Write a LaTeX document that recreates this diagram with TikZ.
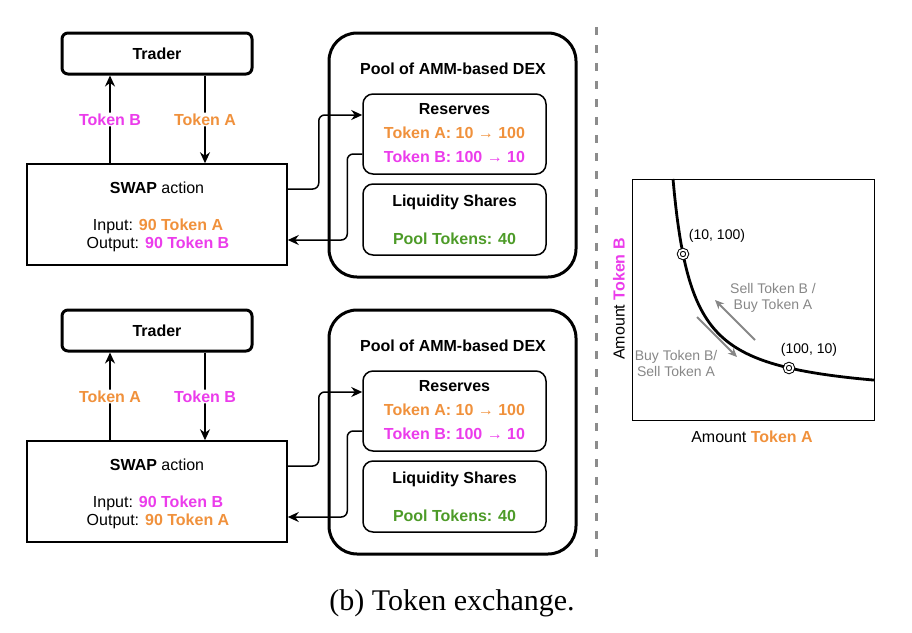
\documentclass[tikz,border=0pt]{standalone}
\usepackage{fontspec}
\setmainfont{Liberation Sans}
\newfontfamily\capfont{Liberation Serif}
\usetikzlibrary{arrows.meta, positioning, calc}

\definecolor{tokA}{RGB}{240,145,60}
\definecolor{tokB}{RGB}{235,60,235}
\definecolor{poolgreen}{RGB}{77,155,40}
\definecolor{divgray}{RGB}{140,140,140}
\definecolor{hintgray}{RGB}{135,135,135}

\newcommand{\dfont}{\fontsize{16}{19}\selectfont}
\newcommand{\sfont}{\fontsize{14}{16}\selectfont}
\newcommand{\tok}[2]{\textcolor{tok#1}{\textbf{#2}}}

\tikzset{
  txt/.style={font=\dfont, inner sep=1pt},
  actor/.style={txt, draw, line width=3pt, rounded corners=6pt, minimum width=190pt, minimum height=41pt},
  actbox/.style={draw, line width=1.5pt, minimum width=260pt, minimum height=101pt},
  poolbox/.style={draw, line width=3pt, rounded corners=28pt, minimum width=247pt, minimum height=244pt},
  subbox/.style={draw, line width=1.5pt, rounded corners=10pt, minimum width=183pt},
  flow/.style={line width=1.5pt, -{Stealth[length=11pt,width=10pt]}, rounded corners=6pt},
  tag/.style={txt, fill=white},
  dot/.style={circle, draw, fill=white, line width=1pt, double=white, double distance=1.8pt, minimum size=8.5pt, inner sep=0pt},
  hint/.style={font=\sfont, text=hintgray, align=center},
  move/.style={draw=hintgray, line width=2pt, -{Stealth[length=9pt,width=8pt]}},
}

\begin{document}
\begin{tikzpicture}[x=1pt, y=-1pt]
\useasboundingbox (0,0) rectangle (912,632);

% swap panels (top: A in, bottom: B in)
\foreach \dy/\upl/\dnl in {0/B/A, 277/A/B}{
  \begin{scope}[shift={(0,\dy)}]
    \node[actor] (trader\dy) at (157,53.5) {\textbf{Trader}};
    \node[actbox] (swap\dy) at (157,214.5) {};
    \node[txt] (swapT\dy) at (157,188) {\textbf{SWAP} action};
    \node[txt] (swapIn\dy) at (158,226) {Input: \tok{\dnl}{90 Token \dnl}};
    \node[txt] (swapOut\dy) at (158,244) {Output: \tok{\upl}{90 Token \upl}};

    \node[poolbox] (pool\dy) at (452.5,155) {};
    \node[txt] (poolT\dy) at (453,69) {\textbf{Pool of AMM-based DEX}};
    \node[subbox, minimum height=80pt] (res\dy) at (454.5,134) {};
    \node[txt] (resT\dy) at (454.5,109) {\textbf{Reserves}};
    \node[txt] (resA\dy) at (454.5,133) {\tok{A}{Token A: 10 → 100}};
    \node[txt] (resB\dy) at (454.5,157) {\tok{B}{Token B: 100 → 10}};
    \node[subbox, minimum height=71pt] (liq\dy) at (454.5,219.5) {};
    \node[txt] (liqT\dy) at (454.5,202) {\textbf{Liquidity Shares}};
    \node[txt] (liqP\dy) at (454.5,239) {\textcolor{poolgreen}{\textbf{Pool Tokens: 40}}};

    \draw[flow] ([xshift=-47pt]swap\dy.north) -- ([xshift=-47pt]trader\dy.south)
      node[tag, midway] (up\dy) {\tok{\upl}{Token \upl}};
    \draw[flow] ([xshift=48pt]trader\dy.south) -- ([xshift=48pt]swap\dy.north)
      node[tag, midway] (down\dy) {\tok{\dnl}{Token \dnl}};

    \draw[flow] ([yshift=25.5pt]swap\dy.east) -- ++(31,0) |- ([yshift=19pt]res\dy.west);
    \draw[flow] ([yshift=-20pt]res\dy.west) -- ++(-15,0) |- ([yshift=-25.5pt]swap\dy.east);
  \end{scope}
}

\draw[line width=3pt, divgray, dash pattern=on 8pt off 10pt] (596,27) -- (596,558);

% constant product curve
\node[draw, line width=1pt, minimum width=242pt, minimum height=241pt] (chart) at (753,299.5) {};
\draw[line width=2.8pt] plot[domain=673:874, samples=150] (\x, {399.5-4278/(\x-653.6)});
\node[dot] (p1) at (683,254) {};
\node[dot] (p2) at (789,368) {};
\node[font=\sfont] (p1lbl) at (717,236) {(10, 100)};
\node[font=\sfont] (p2lbl) at (809,350) {(100, 10)};

\coordinate (s1) at (755,340);
\coordinate (s2) at (715,300);
\coordinate (b1) at (697,317);
\coordinate (b2) at (737,357);
\draw[move] (s1) -- (s2);
\draw[move] (b1) -- (b2);
\node[hint] (sellB) at (773,298) {Sell Token B /\\Buy Token A};
\node[hint] (buyB) at (676,363) {Buy Token B/\\Sell Token A};

\node[txt] (xlab) at (752,437) {Amount \tok{A}{Token A}};
\node[txt, rotate=90] (ylab) at (619,299) {Amount \tok{B}{Token B}};

\node[font=\capfont\fontsize{30}{34}\selectfont] (cap) at (452,603) {(b) Token exchange.};
\end{tikzpicture}
\end{document}
